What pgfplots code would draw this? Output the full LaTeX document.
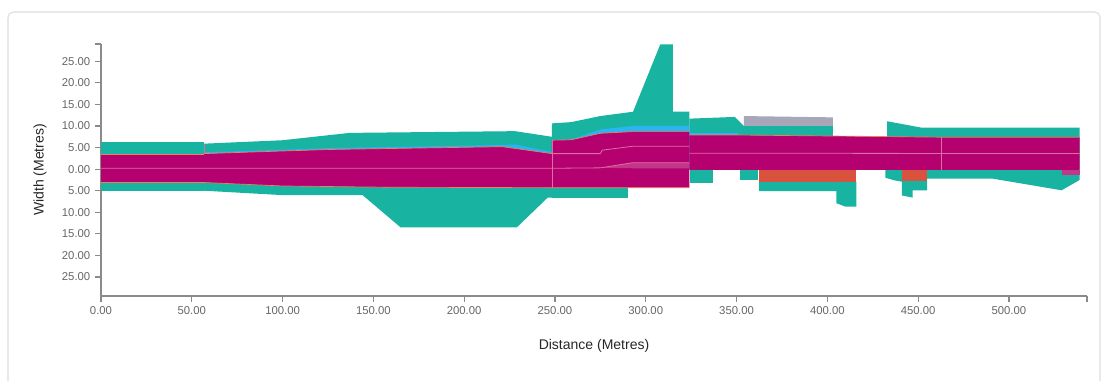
\documentclass[border=0pt]{standalone}
\usepackage{fontspec}
\setmainfont{Liberation Sans}
\usepackage{pgfplots}
\pgfplotsset{compat=1.18}
\definecolor{tealc}{HTML}{19B3A1}
\definecolor{magc}{HTML}{B5006F}
\definecolor{bluec}{HTML}{2AB4F0}
\definecolor{grayc}{HTML}{A8A6B9}
\definecolor{redc}{HTML}{D8523D}
\definecolor{lightmag}{HTML}{C2378A}
\definecolor{lanec}{HTML}{DB6FA2}
\definecolor{kerbc}{HTML}{E9845A}
\definecolor{axisc}{HTML}{8A8A8A}
\definecolor{tickc}{HTML}{666666}
\definecolor{borderc}{HTML}{DDDDDD}
\pgfplotsset{
  poly/.style={fill=#1, draw=none, forget plot},
  lane/.style={color=lanec, line width=0.6pt, forget plot},
  kerb/.style={color=kerbc, line width=0.5pt, forget plot},
}
\begin{document}
\begin{tikzpicture}
\path[use as bounding box] (-75.75pt,-63.75pt) rectangle (752.25pt,222pt);
\draw[color=borderc, line width=0.8pt, rounded corners=4pt] (-69.75pt,-90pt) rectangle (749.25pt,213pt);
\begin{axis}[
  at={(0pt,0pt)}, anchor=south west,
  scale only axis, width=739.5pt, height=189pt,
  xmin=0, xmax=543, ymin=-29.4, ymax=29,
  axis lines*=left,
  axis line style={color=axisc, line width=0.9pt},
  tick align=outside, major tick length=4.5pt,
  tick style={color=axisc, line width=0.9pt},
  xtick={0,50,...,500}, ytick={-25,-20,...,25},
  extra x ticks={543}, extra x tick labels={},
  extra y ticks={29}, extra y tick labels={},
  xticklabel={\pgfmathprintnumber[fixed,fixed zerofill,precision=2]{\tick}},
  yticklabel={\pgfmathparse{abs(\tick)}\pgfmathprintnumber[fixed,fixed zerofill,precision=2]{\pgfmathresult}},
  /pgf/number format/assume math mode=true,
  tick label style={font=\fontsize{8.5}{10}\selectfont, text=tickc},
  xlabel={Distance (Metres)}, ylabel={Width (Metres)},
  label style={font=\fontsize{10.5}{12}\selectfont, text=black!85},
  xlabel style={at={(axis description cs:0.5,-0.1984)}, anchor=center},
  ylabel style={at={(axis description cs:-0.0619,0.5)}, anchor=center},
  clip=true,
]
% ---- teal (top side)
\addplot[poly=tealc] coordinates {(0,0) (56.8,0) (56.8,6.2) (0,6.2)} -- cycle;
\addplot[poly=tealc] coordinates {(56.8,0) (248.3,0) (248.3,7.5) (228,8.8) (137,8.4) (100,6.7) (56.8,5.9)} -- cycle;
\addplot[poly=tealc] coordinates {(248.3,0) (324,0) (324,13.3) (315,13.3) (315,28.9) (308,28.9) (293,13.3) (275,12.3) (259,10.9) (248.3,10.6)} -- cycle;
\addplot[poly=tealc] coordinates {(324,0) (403,0) (403,10.0) (354,10.0) (349,12.1) (324,11.7)} -- cycle;
\addplot[poly=tealc] coordinates {(432.9,0) (539,0) (539,9.6) (452,9.6) (432.9,11.1)} -- cycle;
% ---- teal (bottom side)
\addplot[poly=tealc] coordinates {(0,0) (0,-5.0) (56.8,-5.0) (56.8,0)} -- cycle;
\addplot[poly=tealc] coordinates {(56.8,0) (56.8,-5.0) (99,-6.0) (144,-6.0) (165,-13.5) (229,-13.5) (246,-6.6) (248.3,-6.6) (248.3,0)} -- cycle;
\addplot[poly=tealc] coordinates {(248.3,0) (248.3,-6.6) (290,-6.6) (290,0)} -- cycle;
\addplot[poly=tealc] coordinates {(324.5,-0.2) (337,-0.2) (337,-3.3) (324.5,-3.3)} -- cycle;
\addplot[poly=tealc] coordinates {(352,-0.2) (362,-0.2) (362,-2.5) (352,-2.5)} -- cycle;
\addplot[poly=tealc] coordinates {(362.5,-2.9) (416,-2.9) (416,-8.7) (410,-8.7) (405,-7.9) (405,-5.1) (362.5,-5.1)} -- cycle;
\addplot[poly=tealc] coordinates {(432,-0.2) (455,-0.2) (455,-4.9) (447,-4.9) (447,-6.6) (441,-6.1) (441,-2.9) (437,-2.6) (432,-2.0)} -- cycle;
\addplot[poly=tealc] coordinates {(455,-0.2) (539,-0.2) (539,-2.5) (529,-4.9) (491,-2.2) (455,-2.2)} -- cycle;
% ---- blue strips
\addplot[poly=bluec] coordinates {(56.8,0) (248.3,0) (248.3,4.0) (228,5.7) (221,5.6) (126,4.9) (100,4.5) (56.8,3.9)} -- cycle;
\addplot[poly=bluec] coordinates {(248.3,0) (324,0) (324,10.0) (293,10.0) (275,9.2) (259,6.9) (248.3,6.7)} -- cycle;
\addplot[poly=bluec] coordinates {(324,0) (351,0) (351,8.3) (324,8.3)} -- cycle;
% ---- grey block
\addplot[poly=grayc] coordinates {(354,10.0) (354,12.3) (403,12.0) (403,10.0)} -- cycle;
% ---- magenta carriageway
\addplot[poly=magc] coordinates {(0,-3.1) (56.8,-3.1) (56.8,3.4) (0,3.4)} -- cycle;
\addplot[poly=magc] coordinates {(56.8,-3.1) (100,-3.9) (159,-4.2) (248.3,-4.3) (248.3,3.6) (221,5.2) (126,4.55) (100,4.2) (56.8,3.6)} -- cycle;
\addplot[poly=magc] coordinates {(248.3,-4.3) (324,-4.3) (324,8.7) (293,8.7) (275,8.3) (259,6.8) (248.3,6.7)} -- cycle;
\addplot[poly=magc] coordinates {(324,-0.2) (539,-0.2) (539,7.4) (462,7.4) (420,7.6) (351,7.9) (324,7.9)} -- cycle;
\addplot[poly=lightmag] coordinates {(275,0.3) (293,1.5) (324,1.5) (324,0.2) (293,0.2)} -- cycle;
\addplot[poly=lightmag] coordinates {(529,-0.2) (539,-0.2) (539,-1.4) (529,-1.4)} -- cycle;
% ---- red blocks
\addplot[poly=redc] coordinates {(362.5,-0.2) (416,-0.2) (416,-2.9) (362.5,-2.9)} -- cycle;
\addplot[poly=redc] coordinates {(441,-0.2) (455,-0.2) (455,-2.8) (441,-2.8)} -- cycle;
% ---- lane lines
\addplot[lane] coordinates {(0,0.2) (248.3,0.2) (275,0.3) (293,1.5) (324,1.5)};
\addplot[lane] coordinates {(248.3,3.6) (275,3.6) (276,4.4) (293,5.3) (324,5.3)};
\addplot[lane] coordinates {(324,3.7) (539,3.6)};
\addplot[lane, line width=0.4pt] coordinates {(248.3,-4.3) (248.3,6.7)};
\addplot[lane, line width=0.4pt] coordinates {(462.6,-0.2) (462.6,7.4)};
\addplot[lane, line width=0.4pt] coordinates {(56.8,3.6) (56.8,5.9)};
% ---- kerb lines
\addplot[kerb] coordinates {(0,-3.1) (56.8,-3.1) (100,-3.9) (159,-4.2) (248.3,-4.3) (324,-4.3)};
\addplot[kerb] coordinates {(0,3.4) (56.8,3.4)};
\addplot[kerb] coordinates {(56.8,3.6) (100,4.2) (126,4.55) (221,5.2) (248.3,3.6)};
\addplot[kerb] coordinates {(248.3,6.7) (259,6.8) (275,8.3) (293,8.7) (324,8.7)};
\addplot[kerb] coordinates {(324,7.9) (351,7.9) (420,7.6) (462,7.4) (539,7.4)};
\end{axis}
\end{tikzpicture}
\end{document}
